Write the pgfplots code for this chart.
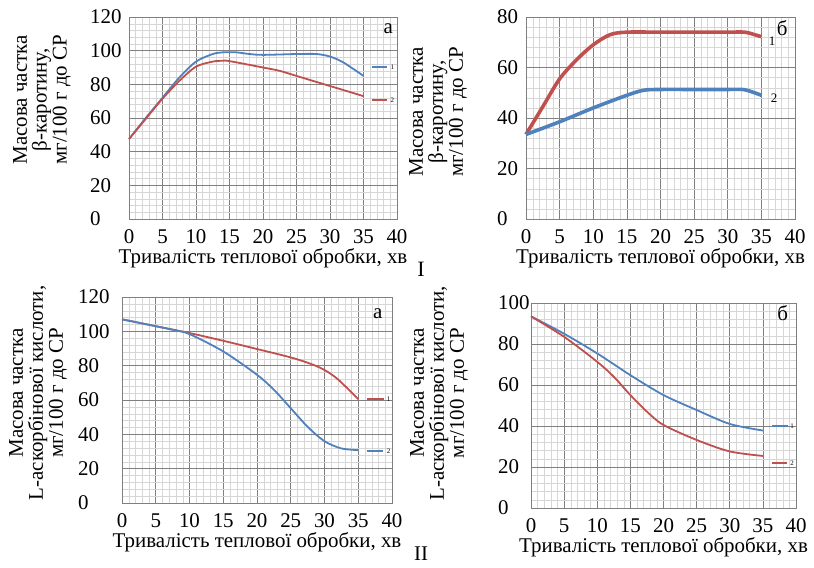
\documentclass[border=0pt]{standalone}
\usepackage{fontspec}
\setmainfont{Liberation Serif}
\usepackage{pgfplots}
\pgfplotsset{compat=1.18}
\definecolor{xlblue}{RGB}{79,129,189}
\definecolor{xlred}{RGB}{192,80,77}

\newcommand{\bigf}{\fontsize{21}{20}\selectfont}
\newcommand{\tinyf}{\fontsize{7}{7}\selectfont}

\pgfplotsset{
  panel/.style={
    scale only axis,
    anchor=south west,
    xmin=0, xmax=40, xtick distance=5, minor x tick num=4,
    ymin=0, ytick distance=20, minor y tick num=4,
    grid=both,
    major grid style={draw=black!50, line width=0.6bp},
    minor grid style={draw=black!16, line width=0.4bp},
    axis line style={draw=black!50, line width=0.6bp},
    major tick length=0pt, minor tick length=0pt,
    tick label style={font=\bigf, inner sep=0pt},
    label style={font=\bigf},
    /pgf/number format/assume math mode=true,
    xticklabel={\pgfmathprintnumber{\tick}},
    yticklabel={\pgfmathprintnumber{\tick}},
    xticklabel style={anchor=center, yshift=-18bp},
    yticklabel style={anchor=west},
    xlabel={Тривалість теплової обробки, хв},
    xlabel style={at={(axis description cs:0.5,0)}, anchor=center, yshift=-39bp},
    ylabel style={anchor=center, align=center},
    clip=false,
  },
  thin/.style={line width=1.8bp, smooth},
  thick/.style={line width=3.6bp, smooth},
  key/.style={line width=2bp},
}

\begin{document}
\begin{tikzpicture}
\path (0bp,0bp) rectangle (814bp,-568bp);

% I a
\begin{axis}[panel, at={(129bp,-219bp)}, width=268bp, height=202bp,
    ymax=120, yticklabel style={xshift=-39bp},
    ylabel={Масова частка\\β-каротину,\\мг/100 г до СР},
    ylabel style={at={(axis description cs:-0.325,0.59)}}]
\addplot[xlblue, thin] coordinates {(0,47.5) (2.5,60) (5,72) (7.5,84) (10,93.5) (12.5,98) (14,99) (16,99) (18,98) (20,97.5) (25,98) (28,98) (30,96.5) (32,93) (35,85)};
\addplot[xlred, thin] coordinates {(0,47.5) (2.5,59.5) (5,71.5) (7.5,82) (10,90.5) (12.5,93.5) (14,94) (15,93.8) (20,90) (22.5,88) (25,85) (30,79) (35,73)};
\addplot[xlblue, key] coordinates {(36.3,90.3) (38.5,90.3)};
\addplot[xlred, key] coordinates {(36.3,70.7) (38.5,70.7)};
\node[font=\tinyf] at (axis cs:39.3,90.3) {1};
\node[font=\tinyf] at (axis cs:39.3,70.7) {2};
\node[font=\bigf] at (axis cs:38.7,113) {а};
\end{axis}

% I b
\begin{axis}[panel, at={(526bp,-219bp)}, width=269bp, height=202bp,
    ymax=80, yticklabel style={xshift=-29bp},
    ylabel={Масова частка\\β-каротину,\\мг/100 г до СР},
    ylabel style={at={(axis description cs:-0.327,0.53)}}]
\addplot[xlred, thick] coordinates {(0,33.5) (2.5,44.5) (5,55.5) (7.5,63) (10,69) (12.5,73) (15,74) (20,74) (25,74) (30,74) (32.5,74) (34,73) (35,72.2)};
\addplot[xlblue, thick] coordinates {(0,33.5) (5,38.5) (10,44) (15,49) (17.5,51) (20,51.3) (25,51.3) (30,51.3) (32.5,51.2) (35,49)};
\node[font=\fontsize{13}{13}\selectfont] at (axis cs:36.6,70.5) {1};
\node[font=\fontsize{13}{13}\selectfont] at (axis cs:36.9,47.8) {2};
\node[font=\bigf] at (axis cs:38.1,75.5) {б};
\end{axis}

% II a
\begin{axis}[panel, at={(122bp,-503bp)}, width=270bp, height=206bp,
    ymax=120, yticklabel style={xshift=-44bp},
    ylabel={Масова частка\\L-аскорбінової кислоти,\\мг/100 г до СР},
    ylabel style={at={(axis description cs:-0.311,0.534)}}]
\addplot[xlred, thin] coordinates {(0,107) (5,103) (10,99) (15,94.5) (20,89.7) (25,84.8) (28,81) (30,77.5) (32,72) (35,60.5)};
\addplot[xlblue, thin] coordinates {(0,107) (5,103) (8,100.5) (10,98.4) (15,88.3) (20,74.7) (22.5,66) (25,55.2) (27.5,44.4) (30,36) (32.5,31.8) (35,30.8)};
\addplot[xlred, key] coordinates {(36.3,60.6) (38.8,60.6)};
\addplot[xlblue, key] coordinates {(36.3,30.3) (38.7,30.3)};
\node[font=\tinyf] at (axis cs:39.5,60.6) {1};
\node[font=\tinyf] at (axis cs:39.5,30.3) {2};
\node[font=\bigf] at (axis cs:37.9,110.5) {а};
\end{axis}

% II b
\begin{axis}[panel, at={(531bp,-508bp)}, width=265bp, height=205bp,
    ymax=100, yticklabel style={xshift=-33bp},
    ylabel={Масова частка\\L-аскорбінової кислоти,\\мг/100 г до СР},
    ylabel style={at={(axis description cs:-0.347,0.56)}}]
\addplot[xlblue, thin] coordinates {(0,93.5) (5,85) (10,75.4) (15,64.8) (20,55.1) (25,47.8) (30,41) (35,37.8)};
\addplot[xlred, thin] coordinates {(0,93.5) (5,83.5) (10,71.3) (12.5,64) (15,55.1) (17.5,47) (20,40.5) (25,33.2) (30,27.6) (35,25.4)};
\addplot[xlblue, key] coordinates {(36.4,40) (38.8,40)};
\addplot[xlred, key] coordinates {(36.4,22) (38.6,22)};
\node[font=\tinyf] at (axis cs:39.4,40) {1};
\node[font=\tinyf] at (axis cs:39.4,22) {2};
\node[font=\bigf] at (axis cs:38,95) {б};
\end{axis}

\node[font=\fontsize{22}{22}\selectfont, anchor=north, inner sep=0pt] at (421bp,-262bp) {I};
\node[font=\fontsize{21}{21}\selectfont, anchor=north, inner sep=0pt] at (421bp,-547bp) {II};
\end{tikzpicture}
\end{document}
